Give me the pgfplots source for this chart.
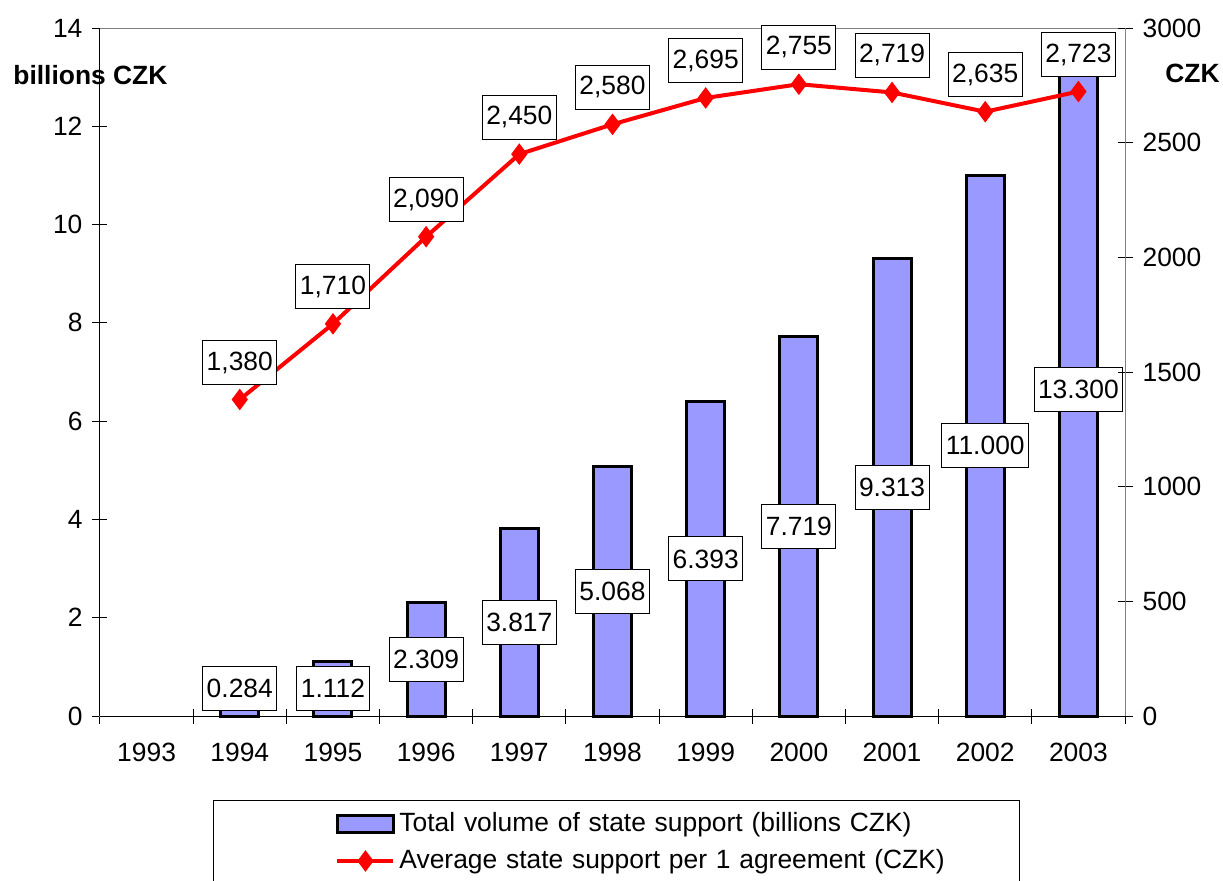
\documentclass[border=0pt]{standalone}
\usepackage{fontspec}
\setmainfont{Liberation Sans}
\usepackage{pgfplots}
\usepackage{pgfplotstable}
\pgfplotsset{compat=1.18}
\definecolor{barblue}{HTML}{9999FF}
\definecolor{axgray}{HTML}{808080}
\newcommand{\fs}{\fontsize{13.2}{15.8}\selectfont}

\pgfplotstableread{
x val
1 0.284
2 1.112
3 2.309
4 3.817
5 5.068
6 6.393
7 7.719
8 9.313
9 11.000
10 13.300
}\bars

\pgfplotstableread{
x pos lab
1 0.556 0.284
2 0.556 1.112
3 1.1545 2.309
4 1.9085 3.817
5 2.534 5.068
6 3.1965 6.393
7 3.8595 7.719
8 4.6565 9.313
9 5.5 11.000
10 6.65 13.300
}\barlabels

\pgfplotstableread{
x val lab
1 1380 1,380
2 1710 1,710
3 2090 2,090
4 2450 2,450
5 2580 2,580
6 2695 2,695
7 2755 2,755
8 2719 2,719
9 2635 2,635
10 2723 2,723
}\avg

\tikzset{lab/.style={anchor=center, draw=black, fill=white, text=black, line width=0.5pt, font=\fs, inner xsep=2pt, minimum height=22pt}}

\pgfplotsset{
  barleg/.style={legend image code/.code={\path (-58pt,0pt); \draw[##1] (0pt,-4.25pt) rectangle (28pt,4.25pt);}},
  lineleg/.style={legend image code/.code={\path (-58pt,0pt); \draw[mark indices={2},##1] plot coordinates {(0pt,0pt) (14pt,0pt) (28pt,0pt)};}},
  base/.style={
    width=512.5pt, height=344pt, scale only axis,
    at={(0pt,0pt)}, anchor=south west,
    xmin=-0.5, xmax=10.5,
    /pgf/number format/assume math mode=true,
    /pgf/number format/1000 sep={},
    tick label style={font=\fs, text=black},
    tick align=center,
    major tick length=7.5pt,
    minor tick length=7.5pt,
    tick style={black, line width=0.5pt},
    clip=false,
  },
}

\begin{document}
\begin{tikzpicture}
\begin{axis}[base,
  ymin=0, ymax=14, ytick={0,2,...,14},
  ytick pos=left, xtick pos=bottom,
  xtick={0,...,10},
  xticklabels={1993,1994,1995,1996,1997,1998,1999,2000,2001,2002,2003},
  major x tick style={draw=none},
  minor xtick={-0.5,0.5,...,10.5},
  axis line style={draw=axgray, line width=0.5pt},
  xticklabel style={yshift=-6pt},
  yticklabel style={xshift=-1.5pt},
]
\addplot[ybar, bar width=19pt, bar shift=0pt, fill=barblue, draw=black, line width=1.5pt] table[x=x, y=val] {\bars};
\draw[black, line width=0.5pt] (rel axis cs:0,0) -- (rel axis cs:0,1);
\draw[black, line width=0.5pt] (rel axis cs:0,0) -- (rel axis cs:1,0);
\addplot[draw=none, mark=none, nodes near coords, point meta=explicit symbolic,
  nodes near coords style={lab}] table[x=x, y=pos, meta=lab] {\barlabels};
\end{axis}

\begin{axis}[base,
  ymin=0, ymax=3000, ytick={0,500,...,3000},
  axis x line=none, axis y line*=right,
  y axis line style={draw=axgray, line width=0.5pt},
  yticklabel style={xshift=1.5pt},
  legend style={at={(0.1102,-0.1221)}, anchor=north west, draw=black, line width=0.5pt,
    inner xsep=3pt, inner ysep=2.5pt, column sep=0pt, font=\fs,
    nodes={inner sep=2pt, text height=11pt, text depth=3.5pt, text width=305pt, align=left}},
  legend cell align=left,
]
\addlegendimage{barleg, fill=barblue, draw=black, line width=1.5pt}
\addlegendentry{Total volume of state support (billions CZK)}
\addplot[lineleg, red, line width=2pt, mark=diamond*, mark size=5pt,
  mark options={solid, fill=red, draw=red, line width=0.5pt},
  nodes near coords, point meta=explicit symbolic,
  nodes near coords style={lab, yshift=18.5pt}] table[x=x, y=val, meta=lab] {\avg};
\addlegendentry{Average state support per 1 agreement (CZK)}
\end{axis}

\node[anchor=west, font=\fs\bfseries, inner sep=0pt] at (-43.5pt,320.5pt) {billions CZK};
\node[anchor=west, font=\fs\bfseries, inner sep=0pt] at (532.5pt,321.5pt) {CZK};

\pgfresetboundingbox
\path[use as bounding box] (-50pt,-82pt) rectangle (561.5pt,358pt);
\end{tikzpicture}
\end{document}
